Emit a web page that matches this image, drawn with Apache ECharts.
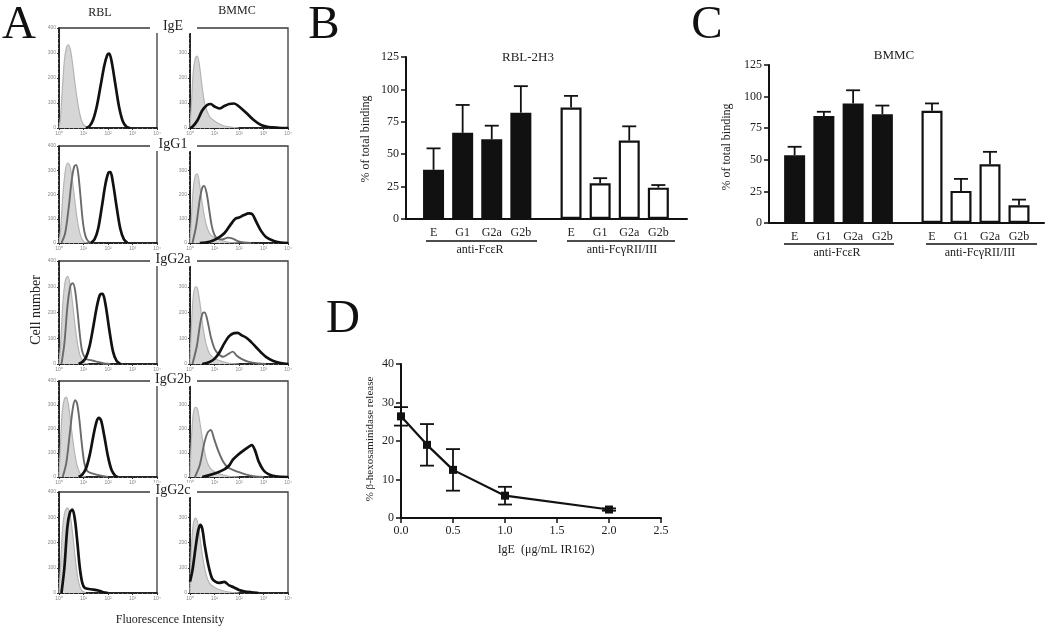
<!DOCTYPE html>
<html><head><meta charset="utf-8">
<script src="https://cdn.jsdelivr.net/npm/echarts@6/dist/echarts.min.js"></script>
<style>html,body{margin:0;padding:0;background:#fff}#c{width:1050px;height:630px}</style>
</head><body><div id="c"></div>
<script>
// ---------- Panel A: flow cytometry histograms, x = log10(fluorescence), y = cell count ----------
const histRows = ['IgE', 'IgG1', 'IgG2a', 'IgG2b', 'IgG2c'];
const histCols = ['RBL', 'BMMC'];
const histTicks = ['10⁰', '10¹', '10²', '10³', '10⁴'];

const rblIgE_ctrl = [[0,0],[0.06,40],[0.14,160],[0.22,270],[0.3,320],[0.38,333],[0.46,315],[0.55,260],[0.65,180],[0.75,110],[0.85,55],[0.95,22],[1.05,8],[1.2,0]];
const rblIgE_pos  = [[1.1,0],[1.25,8],[1.4,35],[1.55,90],[1.7,170],[1.85,250],[1.97,292],[2.05,298],[2.15,265],[2.3,175],[2.45,85],[2.6,28],[2.75,5],[2.9,0]];
const bmmcIgE_ctrl = [[0,0],[0.05,80],[0.13,220],[0.22,280],[0.3,288],[0.4,240],[0.5,160],[0.62,90],[0.8,45],[1.0,28],[1.2,16],[1.4,8],[1.7,3],[2.0,0]];
const bmmcIgE_pos  = [[0,0],[0.1,5],[0.3,30],[0.5,70],[0.7,92],[0.85,96],[1.0,86],[1.2,78],[1.4,88],[1.6,96],[1.8,98],[2.0,86],[2.3,60],[2.6,32],[2.9,12],[3.2,4],[3.6,1],[4.0,0]];

const rblIgG1_ctrl = [[0,0],[0.07,60],[0.16,200],[0.26,300],[0.35,330],[0.44,320],[0.54,265],[0.64,180],[0.74,100],[0.84,45],[0.94,15],[1.05,3],[1.2,0]];
const rblIgG1_iso  = [[0.1,0],[0.25,40],[0.4,150],[0.52,260],[0.62,315],[0.7,322],[0.78,290],[0.87,200],[0.96,100],[1.05,40],[1.15,12],[1.3,0]];
const rblIgG1_pos  = [[1.3,0],[1.45,15],[1.6,60],[1.75,150],[1.9,245],[2.02,290],[2.1,292],[2.2,250],[2.35,150],[2.5,60],[2.65,15],[2.8,0]];
const bmmcIgG1_ctrl = [[0,0],[0.05,90],[0.13,220],[0.22,280],[0.3,285],[0.4,235],[0.52,150],[0.65,80],[0.8,40],[1.0,22],[1.3,10],[1.6,3],[2.0,0]];
const bmmcIgG1_iso  = [[0.1,0],[0.25,70],[0.4,180],[0.5,228],[0.58,235],[0.68,205],[0.78,140],[0.88,75],[0.98,38],[1.1,20],[1.3,15],[1.55,22],[1.75,18],[1.95,8],[2.2,2],[2.5,0]];
const bmmcIgG1_pos  = [[0.4,0],[0.8,5],[1.1,18],[1.4,40],[1.65,75],[1.85,100],[2.0,105],[2.2,115],[2.4,122],[2.55,118],[2.7,88],[2.9,50],[3.1,25],[3.4,9],[3.7,2],[4.0,0]];

const rblIgG2a_ctrl = [[0,0],[0.07,80],[0.16,240],[0.26,325],[0.35,340],[0.45,310],[0.56,230],[0.68,130],[0.8,55],[0.92,18],[1.05,4],[1.2,0]];
const rblIgG2a_iso  = [[0.1,0],[0.22,80],[0.35,230],[0.47,305],[0.56,314],[0.65,290],[0.75,210],[0.85,115],[0.95,48],[1.1,20],[1.3,15],[1.5,10],[1.8,3],[2.1,0]];
const rblIgG2a_pos  = [[0.8,0],[0.95,8],[1.1,25],[1.25,70],[1.4,145],[1.55,225],[1.68,270],[1.78,272],[1.9,230],[2.05,135],[2.2,50],[2.35,12],[2.5,0]];
const bmmcIgG2a_ctrl = [[0,0],[0.05,130],[0.13,260],[0.22,300],[0.3,295],[0.4,240],[0.52,150],[0.65,80],[0.8,40],[1.0,22],[1.3,10],[1.6,3],[2.0,0]];
const bmmcIgG2a_iso  = [[0.1,0],[0.28,70],[0.42,160],[0.52,198],[0.6,200],[0.72,165],[0.85,105],[1.0,60],[1.15,40],[1.35,28],[1.55,38],[1.75,48],[1.9,33],[2.1,20],[2.4,8],[2.8,2],[3.1,0]];
const bmmcIgG2a_pos  = [[0.5,0],[0.8,8],[1.0,20],[1.2,45],[1.4,80],[1.6,108],[1.8,120],[1.95,121],[2.1,112],[2.3,102],[2.5,85],[2.7,65],[2.9,45],[3.1,28],[3.4,12],[3.7,4],[4.0,0]];

const rblIgG2b_ctrl = [[0,0],[0.05,110],[0.13,270],[0.22,325],[0.3,333],[0.4,290],[0.52,190],[0.64,100],[0.76,40],[0.88,12],[1.0,2],[1.1,0]];
const rblIgG2b_iso  = [[0.15,0],[0.3,60],[0.45,190],[0.57,290],[0.66,320],[0.74,305],[0.83,240],[0.93,140],[1.03,60],[1.15,25],[1.35,15],[1.6,8],[2.0,0]];
const rblIgG2b_pos  = [[0.8,0],[0.95,10],[1.1,35],[1.25,90],[1.4,170],[1.53,230],[1.63,246],[1.72,235],[1.85,170],[2.0,85],[2.15,28],[2.3,5],[2.4,0]];
const bmmcIgG2b_ctrl = [[0,0],[0.05,140],[0.13,260],[0.22,290],[0.3,285],[0.4,230],[0.52,150],[0.65,80],[0.8,40],[1.0,22],[1.3,10],[1.6,3],[2.0,0]];
const bmmcIgG2b_iso  = [[0.2,0],[0.4,50],[0.58,140],[0.72,185],[0.85,196],[0.98,160],[1.15,110],[1.35,65],[1.55,40],[1.8,28],[2.0,20],[2.3,10],[2.6,3],[3.0,0]];
const bmmcIgG2b_pos  = [[0.5,0],[0.8,8],[1.1,18],[1.4,32],[1.6,48],[1.75,72],[1.95,92],[2.15,108],[2.35,122],[2.52,133],[2.65,112],[2.8,65],[3.0,28],[3.2,12],[3.5,3],[4.0,0]];

const rblIgG2c_ctrl = [[0,0],[0.06,100],[0.15,260],[0.25,325],[0.35,337],[0.45,310],[0.55,240],[0.65,150],[0.75,70],[0.85,25],[0.95,8],[1.1,0]];
const rblIgG2c_pos  = [[0.1,0],[0.22,100],[0.34,260],[0.45,320],[0.55,330],[0.65,290],[0.75,200],[0.85,100],[0.95,40],[1.05,20],[1.3,15],[1.6,10],[1.8,3],[2.0,0]];
const bmmcIgG2c_ctrl = [[0,0],[0.05,160],[0.13,270],[0.22,297],[0.3,285],[0.4,225],[0.52,140],[0.65,75],[0.8,38],[1.0,22],[1.3,10],[1.6,4],[2.0,0]];
const bmmcIgG2c_pos  = [[0,45],[0.1,90],[0.22,175],[0.33,245],[0.42,270],[0.5,255],[0.6,190],[0.75,110],[0.9,58],[1.05,44],[1.2,40],[1.4,44],[1.6,30],[1.8,22],[2.0,12],[2.2,7],[2.5,3],[2.8,0]];

// ---------- Panel B / C: % of total binding ----------
const barCats = ['E', 'G1', 'G2a', 'G2b'];
const rblFceR = [38, 66.5, 61.5, 82];
const rblFceRErr = [16.5, 21.5, 10.5, 20.5];
const rblFcgR = [86, 27.5, 60.5, 24.2];
const rblFcgRErr = [9, 4, 11, 2];
const bmmcFceR = [53.6, 84.6, 94.6, 86];
const bmmcFceRErr = [6.7, 3.4, 10.4, 6.9];
const bmmcFcgR = [88.8, 25.4, 46.5, 14];
const bmmcFcgRErr = [5.8, 9.5, 9.8, 4.5];

// ---------- Panel D: beta-hexosaminidase release ----------
const dDose = [0, 0.25, 0.5, 1.0, 2.0];
const dRelease = [26.4, 19.0, 12.5, 5.8, 2.2];
const dErr = [2.4, 5.4, 5.4, 2.3, 0.3];

const histData = [
  [[rblIgE_ctrl, null, rblIgE_pos], [bmmcIgE_ctrl, null, bmmcIgE_pos]],
  [[rblIgG1_ctrl, rblIgG1_iso, rblIgG1_pos], [bmmcIgG1_ctrl, bmmcIgG1_iso, bmmcIgG1_pos]],
  [[rblIgG2a_ctrl, rblIgG2a_iso, rblIgG2a_pos], [bmmcIgG2a_ctrl, bmmcIgG2a_iso, bmmcIgG2a_pos]],
  [[rblIgG2b_ctrl, rblIgG2b_iso, rblIgG2b_pos], [bmmcIgG2b_ctrl, bmmcIgG2b_iso, bmmcIgG2b_pos]],
  [[rblIgG2c_ctrl, null, rblIgG2c_pos], [bmmcIgG2c_ctrl, null, bmmcIgG2c_pos]]
];

const SERIF = 'Liberation Serif';
const rowTop = [28, 146, 261, 381, 492];
const rowBot = [128, 243, 364, 477, 593];
const colLeft = [59, 190];
const colW = [98, 98];

const grid = [], xAxis = [], yAxis = [], series = [], graphic = [];

// Panel A grids
histRows.forEach((rname, r) => {
  histCols.forEach((cname, c) => {
    const gi = grid.length;
    grid.push({left: colLeft[c], top: rowTop[r], width: colW[c], height: rowBot[r] - rowTop[r],
      show: true, borderColor: '#3a3a3a', borderWidth: 1.3, backgroundColor: '#fff'});
    xAxis.push({gridIndex: gi, type: 'value', min: 0, max: 4, interval: 1,
      axisLine: {lineStyle: {color: '#111', width: 1.6}},
      axisTick: {length: 2, lineStyle: {color: '#333'}},
      minorTick: {show: true, splitNumber: 5, length: 1, lineStyle: {color: '#777'}},
      splitLine: {show: false},
      axisLabel: {fontSize: 5, color: '#888', margin: 3, formatter: v => histTicks[v]}});
    yAxis.push({gridIndex: gi, type: 'value', min: 0, max: 400, interval: 100,
      axisLine: {show: true, lineStyle: {color: '#111', width: 1.6}},
      axisTick: {show: true, length: 2, lineStyle: {color: '#333'}},
      minorTick: {show: true, splitNumber: 5, length: 1, lineStyle: {color: '#777'}},
      splitLine: {show: false},
      axisLabel: {fontSize: 5, color: '#888', margin: 3}});
    const [ctrl, iso, pos] = histData[r][c];
    series.push({type: 'line', xAxisIndex: gi, yAxisIndex: gi, data: ctrl, smooth: 0.3,
      showSymbol: false, silent: true, z: 2,
      lineStyle: {color: '#b4b4b4', width: 1.2}, areaStyle: {color: '#d6d6d6', opacity: 1}});
    if (iso) series.push({type: 'line', xAxisIndex: gi, yAxisIndex: gi, data: iso, smooth: 0.3,
      showSymbol: false, silent: true, z: 3, lineStyle: {color: '#6a6a6a', width: 1.9}});
    series.push({type: 'line', xAxisIndex: gi, yAxisIndex: gi, data: pos, smooth: 0.3,
      showSymbol: false, silent: true, z: 4, lineStyle: {color: '#111', width: 2.7}});
  });
  graphic.push({type: 'rect', left: 150, top: rowTop[r] - 9, shape: {width: 47, height: 14}, style: {fill: '#fff'}, z: 50});
  graphic.push({type: 'text', x: 173, y: rowTop[r] - 2, z: 51,
    style: {text: rname, font: '14px "Liberation Serif"', fill: '#222', textAlign: 'center', textVerticalAlign: 'middle'}});
});

// Bar panels
function barPanel(frame, groups, title, titlePos, yNamePos, lineY, groupLabelY) {
  const fi = grid.length;
  grid.push({left: frame.left, top: frame.top, width: frame.width, height: frame.height});
  xAxis.push({gridIndex: fi, type: 'value', min: 0, max: 1, axisLine: {lineStyle: {color: '#111', width: 2}},
    axisTick: {show: false}, axisLabel: {show: false}, splitLine: {show: false}});
  yAxis.push({gridIndex: fi, type: 'value', min: 0, max: 125, interval: 25,
    axisLine: {show: true, lineStyle: {color: '#111', width: 2}},
    axisTick: {show: true, length: 5, lineStyle: {color: '#111', width: 1.5}},
    splitLine: {show: false},
    axisLabel: {fontFamily: SERIF, fontSize: 12, color: '#222', margin: 7}});
  groups.forEach(g => {
    const gi = grid.length;
    grid.push({left: g.left, top: frame.top, width: g.width, height: frame.height});
    xAxis.push({gridIndex: gi, type: 'category', data: barCats, axisLine: {show: false}, axisTick: {show: false},
      axisLabel: {fontFamily: SERIF, fontSize: 12, color: '#222', margin: 8}});
    yAxis.push({gridIndex: gi, type: 'value', min: 0, max: 125, show: false});
    series.push({type: 'bar', xAxisIndex: gi, yAxisIndex: gi, data: g.values, barWidth: 21, silent: true,
      itemStyle: {color: g.fill, borderColor: '#111', borderWidth: 2.2}});
    series.push({type: 'custom', xAxisIndex: gi, yAxisIndex: gi, silent: true, z: 5,
      data: g.values.map((v, i) => [i, v, g.errs[i]]),
      renderItem: (params, api) => {
        const p0 = api.coord([api.value(0), api.value(1)]);
        const p1 = api.coord([api.value(0), api.value(1) + api.value(2)]);
        const st = {stroke: '#111', lineWidth: 1.8};
        return {type: 'group', children: [
          {type: 'line', shape: {x1: p0[0], y1: p0[1], x2: p1[0], y2: p1[1]}, style: st},
          {type: 'line', shape: {x1: p1[0] - 7, y1: p1[1], x2: p1[0] + 7, y2: p1[1]}, style: st}
        ]};
      }});
    graphic.push({type: 'line', shape: {x1: g.lineX[0], y1: lineY, x2: g.lineX[1], y2: lineY},
      style: {stroke: '#111', lineWidth: 1.6}, z: 20});
    graphic.push({type: 'text', x: g.labelX, y: groupLabelY, z: 20,
      style: {text: g.label, font: '12px "Liberation Serif"', fill: '#222', textAlign: 'center', textVerticalAlign: 'middle'}});
  });
  graphic.push({type: 'text', x: titlePos[0], y: titlePos[1], z: 20,
    style: {text: title, font: '13px "Liberation Serif"', fill: '#222', textAlign: 'center', textVerticalAlign: 'middle'}});
  graphic.push({type: 'text', x: yNamePos[0], y: yNamePos[1], rotation: Math.PI / 2, z: 20,
    style: {text: '% of total binding', font: '12px "Liberation Serif"', fill: '#222', textAlign: 'center', textVerticalAlign: 'middle'}});
}

barPanel({left: 406, top: 57, width: 281, height: 162}, [
  {left: 419, width: 116.4, values: rblFceR, errs: rblFceRErr, fill: '#111', lineX: [426, 537], labelX: 480, label: 'anti-FcεR'},
  {left: 556.5, width: 116.4, values: rblFcgR, errs: rblFcgRErr, fill: '#fff', lineX: [567, 675], labelX: 622, label: 'anti-FcγRII/III'}
], 'RBL-2H3', [528, 58], [366, 139], 241, 250);

barPanel({left: 769, top: 65, width: 275, height: 158}, [
  {left: 780, width: 117, values: bmmcFceR, errs: bmmcFceRErr, fill: '#111', lineX: [784, 894], labelX: 837, label: 'anti-FcεR'},
  {left: 917.5, width: 116, values: bmmcFcgR, errs: bmmcFcgRErr, fill: '#fff', lineX: [926, 1037], labelX: 980, label: 'anti-FcγRII/III'}
], 'BMMC', [894, 56], [727, 147], 244, 253);

// Panel D
const di = grid.length;
grid.push({left: 401, top: 364, width: 260, height: 154});
xAxis.push({gridIndex: di, type: 'value', min: 0, max: 2.5, interval: 0.5,
  axisLine: {lineStyle: {color: '#111', width: 2}},
  axisTick: {show: true, length: 5, lineStyle: {color: '#111', width: 1.5}},
  splitLine: {show: false},
  axisLabel: {fontFamily: SERIF, fontSize: 12, color: '#222', margin: 7, formatter: v => v.toFixed(1)}});
yAxis.push({gridIndex: di, type: 'value', min: 0, max: 40, interval: 10,
  axisLine: {show: true, lineStyle: {color: '#111', width: 2}},
  axisTick: {show: true, length: 5, lineStyle: {color: '#111', width: 1.5}},
  splitLine: {show: false},
  axisLabel: {fontFamily: SERIF, fontSize: 12, color: '#222', margin: 7}});
series.push({type: 'custom', xAxisIndex: di, yAxisIndex: di, silent: true, z: 3,
  data: dDose.map((x, i) => [x, dRelease[i], dErr[i]]),
  renderItem: (params, api) => {
    const lo = api.coord([api.value(0), api.value(1) - api.value(2)]);
    const hi = api.coord([api.value(0), api.value(1) + api.value(2)]);
    const st = {stroke: '#111', lineWidth: 1.8};
    return {type: 'group', children: [
      {type: 'line', shape: {x1: lo[0], y1: lo[1], x2: hi[0], y2: hi[1]}, style: st},
      {type: 'line', shape: {x1: hi[0] - 7, y1: hi[1], x2: hi[0] + 7, y2: hi[1]}, style: st},
      {type: 'line', shape: {x1: lo[0] - 7, y1: lo[1], x2: lo[0] + 7, y2: lo[1]}, style: st}
    ]};
  }});
series.push({type: 'line', xAxisIndex: di, yAxisIndex: di, silent: true, z: 4,
  data: dDose.map((x, i) => [x, dRelease[i]]),
  symbol: 'rect', symbolSize: 8, itemStyle: {color: '#111'}, lineStyle: {color: '#111', width: 2.2}});

// Panel letters and other text
[['A', 19, 26], ['B', 324, 26], ['C', 707, 26], ['D', 343, 320]].forEach(([t, x, y]) => {
  graphic.push({type: 'text', x: x, y: y, z: 20,
    style: {text: t, font: '47px "Liberation Serif"', fill: '#111', textAlign: 'center', textVerticalAlign: 'middle'}});
});
graphic.push({type: 'text', x: 100, y: 13, z: 20, style: {text: 'RBL', font: '12px "Liberation Serif"', fill: '#222', textAlign: 'center', textVerticalAlign: 'middle'}});
graphic.push({type: 'text', x: 237, y: 11, z: 20, style: {text: 'BMMC', font: '12px "Liberation Serif"', fill: '#222', textAlign: 'center', textVerticalAlign: 'middle'}});
graphic.push({type: 'text', x: 36, y: 310, rotation: Math.PI / 2, z: 20, style: {text: 'Cell number', font: '14px "Liberation Serif"', fill: '#222', textAlign: 'center', textVerticalAlign: 'middle'}});
graphic.push({type: 'text', x: 170, y: 620, z: 20, style: {text: 'Fluorescence Intensity', font: '12px "Liberation Serif"', fill: '#222', textAlign: 'center', textVerticalAlign: 'middle'}});
graphic.push({type: 'text', x: 370, y: 439, rotation: Math.PI / 2, z: 20, style: {text: '% β-hexosaminidase release', font: '11px "Liberation Serif"', fill: '#222', textAlign: 'center', textVerticalAlign: 'middle'}});
graphic.push({type: 'text', x: 546, y: 550, z: 20, style: {text: 'IgE  (μg/mL IR162)', font: '12px "Liberation Serif"', fill: '#222', textAlign: 'center', textVerticalAlign: 'middle'}});

const chart = echarts.init(document.getElementById('c'), null, {renderer: 'canvas'});
chart.setOption({backgroundColor: '#fff', animation: false, grid, xAxis, yAxis, series, graphic});
</script></body></html>
